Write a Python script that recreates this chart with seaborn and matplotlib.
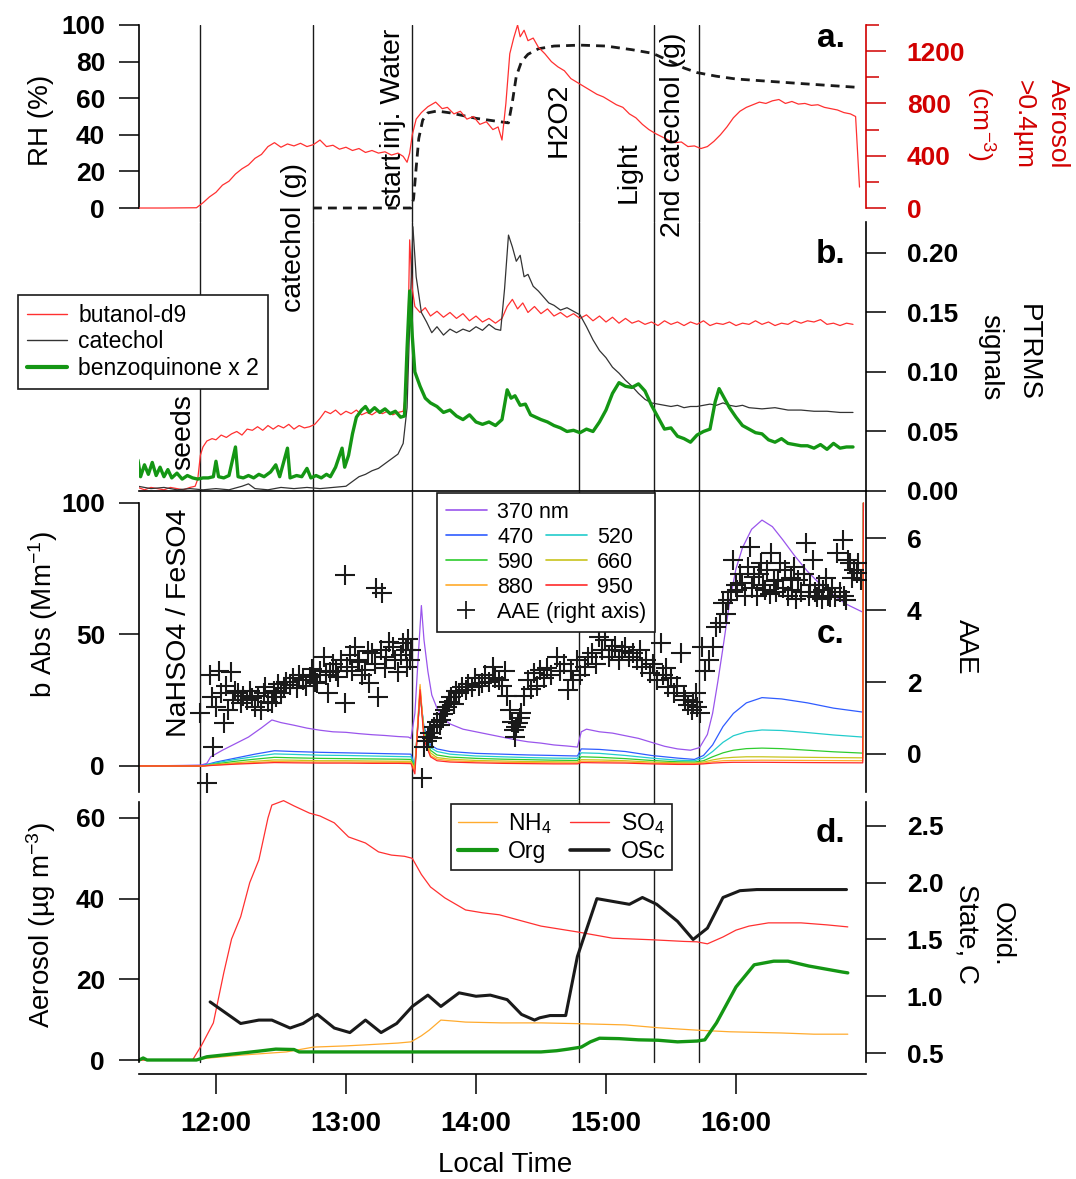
import matplotlib
matplotlib.use("Agg")
import matplotlib.pyplot as plt
import seaborn as sns
from matplotlib.lines import Line2D

# ---------------- data (time in decimal hours, local time) ----------------
events = [11.877, 12.746, 13.508, 14.795, 15.372, 15.713]

# panel a
rh = [(12.746, 0), (13.50, 0), (13.52, 5), (13.54, 22), (13.56, 38), (13.59, 48), (13.63, 52),
      (13.70, 53), (13.80, 52), (13.90, 50.5), (14.00, 49), (14.10, 48), (14.20, 47), (14.25, 46.5),
      (14.28, 58), (14.31, 72), (14.35, 80), (14.40, 84), (14.48, 87), (14.60, 88.5), (14.80, 89),
      (15.00, 88.5), (15.20, 86.5), (15.36, 84.5), (15.50, 80), (15.60, 76.5), (15.70, 74),
      (15.85, 72), (16.00, 70.5), (16.20, 69.5), (16.50, 68), (16.92, 66)]

aerosol_n = [(11.41, 0), (11.60, 0), (11.85, 2), (11.90, 40), (11.95, 85), (12.00, 120), (12.05, 175),
             (12.10, 205), (12.15, 260), (12.20, 300), (12.25, 330), (12.30, 380), (12.35, 410),
             (12.40, 470), (12.45, 500), (12.50, 465), (12.55, 490), (12.60, 475), (12.65, 495),
             (12.70, 470), (12.75, 485), (12.80, 520), (12.85, 470), (12.90, 480), (12.95, 450),
             (13.00, 465), (13.05, 440), (13.10, 455), (13.15, 425), (13.20, 440), (13.25, 420),
             (13.30, 430), (13.35, 405), (13.40, 420), (13.44, 395), (13.47, 350), (13.49, 420),
             (13.51, 560), (13.54, 680), (13.58, 730), (13.63, 775), (13.69, 810), (13.74, 760),
             (13.78, 770), (13.83, 720), (13.88, 740), (13.93, 680), (13.98, 700), (14.03, 640),
             (14.08, 660), (14.13, 600), (14.17, 620), (14.20, 520), (14.23, 800), (14.26, 1180),
             (14.29, 1300), (14.32, 1400), (14.34, 1310), (14.37, 1360), (14.40, 1280), (14.44, 1300),
             (14.48, 1230), (14.53, 1180), (14.58, 1120), (14.63, 1080), (14.68, 1050), (14.73, 990),
             (14.78, 960), (14.83, 930), (14.88, 900), (14.93, 870), (14.98, 850), (15.03, 820),
             (15.08, 790), (15.13, 770), (15.18, 720), (15.23, 690), (15.28, 640), (15.33, 600),
             (15.38, 570), (15.43, 545), (15.48, 520), (15.53, 500), (15.58, 505), (15.63, 470),
             (15.68, 475), (15.73, 455), (15.78, 470), (15.83, 510), (15.88, 560), (15.93, 620),
             (15.98, 690), (16.03, 740), (16.08, 770), (16.13, 790), (16.18, 810), (16.23, 800),
             (16.28, 820), (16.33, 830), (16.38, 800), (16.43, 815), (16.48, 795), (16.53, 800),
             (16.58, 785), (16.63, 790), (16.68, 770), (16.73, 760), (16.78, 750), (16.83, 730),
             (16.88, 720), (16.92, 700), (16.95, 160)]

# panel b
butanol = [(11.40, .003), (11.45, .001), (11.50, .003), (11.55, .002), (11.60, .001), (11.65, .003),
           (11.70, .002), (11.75, .001), (11.80, .003), (11.84, .004), (11.86, .010), (11.88, .030),
           (11.90, .037), (11.93, .042), (11.97, .044), (12.00, .043), (12.04, .047), (12.08, .045),
           (12.12, .048), (12.16, .050), (12.20, .047), (12.24, .052), (12.28, .051), (12.32, .054),
           (12.36, .051), (12.40, .055), (12.44, .052), (12.48, .055), (12.52, .053), (12.56, .056),
           (12.60, .052), (12.64, .055), (12.68, .053), (12.72, .054), (12.76, .056), (12.80, .061),
           (12.84, .067), (12.88, .065), (12.92, .068), (12.96, .064), (13.00, .067), (13.04, .065),
           (13.08, .068), (13.12, .064), (13.16, .066), (13.20, .064), (13.24, .067), (13.28, .065),
           (13.32, .067), (13.36, .064), (13.40, .066), (13.44, .067), (13.47, .090), (13.49, .211),
           (13.51, .170), (13.53, .155), (13.57, .150), (13.61, .154), (13.65, .147), (13.70, .151),
           (13.75, .146), (13.80, .150), (13.85, .145), (13.90, .149), (13.95, .143), (14.00, .147),
           (14.05, .142), (14.10, .145), (14.15, .141), (14.20, .145), (14.24, .155), (14.28, .161),
           (14.32, .153), (14.36, .158), (14.40, .150), (14.45, .155), (14.50, .149), (14.55, .153),
           (14.60, .147), (14.65, .150), (14.70, .146), (14.75, .149), (14.80, .145), (14.85, .148),
           (14.90, .143), (14.95, .147), (15.00, .142), (15.05, .146), (15.10, .141), (15.15, .145),
           (15.20, .141), (15.25, .143), (15.30, .140), (15.35, .142), (15.40, .139), (15.45, .143),
           (15.50, .140), (15.55, .142), (15.60, .139), (15.65, .142), (15.70, .140), (15.75, .143),
           (15.80, .139), (15.85, .141), (15.90, .140), (15.95, .142), (16.00, .139), (16.05, .141),
           (16.10, .140), (16.15, .143), (16.20, .140), (16.25, .142), (16.30, .139), (16.35, .141),
           (16.40, .140), (16.45, .143), (16.50, .141), (16.55, .143), (16.60, .142), (16.65, .144),
           (16.70, .140), (16.75, .141), (16.80, .139), (16.85, .141), (16.90, .140)]

catechol = [(11.40, .004), (11.50, .002), (11.60, .003), (11.70, .001), (11.80, .002), (11.90, .001),
            (12.00, .002), (12.10, .001), (12.20, .004), (12.25, .006), (12.30, .002), (12.40, .001),
            (12.50, .003), (12.60, .002), (12.70, .003), (12.80, .002), (12.90, .003), (13.00, .004),
            (13.05, .008), (13.10, .012), (13.15, .014), (13.20, .017), (13.25, .019), (13.30, .023),
            (13.35, .027), (13.40, .031), (13.44, .040), (13.47, .070), (13.49, .140), (13.515, .222),
            (13.54, .180), (13.58, .150), (13.62, .142), (13.66, .133), (13.70, .138), (13.75, .131),
            (13.80, .136), (13.85, .133), (13.90, .136), (13.95, .134), (14.00, .138), (14.05, .135),
            (14.10, .140), (14.15, .136), (14.19, .135), (14.22, .170), (14.25, .215), (14.28, .205),
            (14.31, .193), (14.34, .198), (14.37, .180), (14.40, .182), (14.44, .172), (14.48, .168),
            (14.52, .163), (14.56, .158), (14.60, .156), (14.65, .152), (14.70, .154), (14.75, .151),
            (14.80, .148), (14.85, .138), (14.90, .127), (14.95, .118), (15.00, .112), (15.05, .104),
            (15.10, .099), (15.15, .093), (15.20, .088), (15.25, .082), (15.30, .077), (15.35, .074),
            (15.40, .073), (15.45, .072), (15.50, .071), (15.55, .072), (15.60, .070), (15.65, .071),
            (15.70, .071), (15.75, .072), (15.80, .073), (15.85, .072), (15.90, .074), (15.95, .072),
            (16.00, .071), (16.05, .072), (16.10, .070), (16.20, .069), (16.30, .070), (16.40, .068),
            (16.50, .068), (16.60, .067), (16.70, .067), (16.80, .066), (16.90, .066)]

benzoquinone = [(11.40, .026), (11.42, .012), (11.45, .022), (11.48, .014), (11.51, .024), (11.54, .013),
                (11.57, .020), (11.60, .012), (11.63, .018), (11.66, .011), (11.70, .015), (11.74, .010),
                (11.78, .013), (11.82, .011), (11.86, .010), (11.90, .011), (11.94, .011), (11.98, .012),
                (12.00, .025), (12.02, .012), (12.06, .011), (12.10, .013), (12.15, .037), (12.17, .012),
                (12.21, .011), (12.25, .013), (12.29, .011), (12.33, .014), (12.37, .012), (12.42, .016),
                (12.46, .022), (12.49, .012), (12.55, .036), (12.57, .011), (12.62, .013), (12.66, .012),
                (12.70, .019), (12.73, .011), (12.77, .013), (12.81, .011), (12.85, .014), (12.88, .012),
                (12.92, .020), (12.97, .036), (12.99, .020), (13.02, .030), (13.05, .048), (13.08, .062),
                (13.12, .068), (13.15, .071), (13.18, .066), (13.22, .070), (13.26, .066), (13.30, .069),
                (13.34, .065), (13.38, .067), (13.42, .062), (13.45, .063), (13.47, .120), (13.49, .168),
                (13.51, .130), (13.53, .100), (13.57, .088), (13.61, .078), (13.65, .074), (13.70, .071),
                (13.75, .066), (13.80, .068), (13.85, .063), (13.90, .060), (13.95, .064), (14.00, .058),
                (14.05, .056), (14.10, .058), (14.15, .055), (14.20, .060), (14.24, .085), (14.27, .078),
                (14.30, .080), (14.34, .072), (14.38, .073), (14.42, .064), (14.46, .062), (14.50, .060),
                (14.55, .058), (14.60, .055), (14.65, .053), (14.70, .050), (14.75, .051), (14.80, .049),
                (14.85, .052), (14.90, .050), (14.95, .058), (15.00, .068), (15.05, .082), (15.10, .091),
                (15.15, .088), (15.20, .087), (15.25, .090), (15.30, .084), (15.35, .072), (15.40, .062),
                (15.45, .052), (15.50, .053), (15.55, .046), (15.60, .044), (15.65, .041), (15.70, .047),
                (15.75, .050), (15.80, .052), (15.84, .075), (15.87, .086), (15.91, .078), (15.95, .070),
                (16.00, .062), (16.05, .055), (16.10, .052), (16.15, .049), (16.20, .048), (16.25, .043),
                (16.30, .041), (16.35, .044), (16.40, .040), (16.45, .039), (16.50, .038), (16.55, .038),
                (16.60, .036), (16.65, .039), (16.70, .035), (16.75, .040), (16.80, .036), (16.85, .037),
                (16.90, .037)]

# panel c (absorption, Mm-1)
abs370 = [(11.41, 0), (11.88, 0.3), (11.93, 1), (11.96, 3.5), (12.05, 6), (12.15, 8.5), (12.25, 11),
          (12.35, 14.5), (12.43, 17.5), (12.50, 16.5), (12.60, 15.5), (12.70, 14.4), (12.80, 13.6),
          (12.90, 13), (13.00, 12.8), (13.10, 12.3), (13.20, 11.9), (13.30, 11.6), (13.40, 11.2),
          (13.48, 11), (13.50, 10.5), (13.53, 20), (13.56, 45), (13.58, 61), (13.60, 48), (13.63, 36),
          (13.66, 27), (13.70, 22), (13.75, 18), (13.80, 16), (13.90, 14), (14.00, 13), (14.10, 12),
          (14.20, 11), (14.30, 10), (14.40, 9.2), (14.50, 8.7), (14.60, 8), (14.70, 7.6), (14.78, 7.2),
          (14.81, 13), (14.85, 14), (14.95, 13), (15.05, 12.5), (15.15, 11.5), (15.25, 10.5), (15.35, 9),
          (15.45, 7.5), (15.55, 6.5), (15.65, 6), (15.72, 7), (15.78, 12), (15.82, 20), (15.86, 32),
          (15.90, 45), (15.95, 62), (16.00, 75), (16.05, 83), (16.12, 90), (16.20, 93.5), (16.28, 91),
          (16.36, 86), (16.45, 80), (16.55, 74), (16.65, 69), (16.75, 65), (16.85, 61.5), (16.975, 58.5),
          (16.98, 100)]
abs470 = [(11.41, 0), (11.90, 0.2), (12.00, 1.5), (12.15, 3), (12.30, 4.5), (12.45, 5.8), (12.60, 5.5),
          (12.80, 5.2), (13.00, 5), (13.20, 4.8), (13.40, 4.6), (13.50, 4.5), (13.53, 0), (13.57, 27),
          (13.60, 15), (13.65, 8), (13.70, 6.5), (13.80, 5.5), (14.00, 4.8), (14.20, 4.5), (14.40, 4.2),
          (14.60, 4), (14.78, 3.8), (14.81, 6.5), (14.95, 6.3), (15.15, 5.5), (15.35, 4), (15.55, 3),
          (15.68, 2.5), (15.75, 4), (15.82, 8), (15.90, 15), (15.98, 20), (16.08, 24), (16.20, 26),
          (16.35, 25.5), (16.55, 24), (16.75, 22), (16.975, 20.5), (16.98, 100)]
abs520 = [(11.41, 0), (11.90, 0.1), (12.00, 1.2), (12.15, 2.5), (12.30, 3.6), (12.45, 4.6), (12.60, 4.4),
          (12.80, 4.1), (13.00, 4), (13.20, 3.8), (13.40, 3.6), (13.50, 3.5), (13.53, 0), (13.57, 28),
          (13.60, 14), (13.65, 7), (13.70, 5.5), (13.80, 4.5), (14.00, 3.8), (14.20, 3.5), (14.40, 3.2),
          (14.60, 3), (14.78, 2.9), (14.81, 5), (14.95, 4.8), (15.15, 4), (15.35, 3), (15.55, 2.2),
          (15.68, 2), (15.75, 3), (15.82, 5.5), (15.90, 9), (15.98, 11.5), (16.08, 13), (16.20, 13.7),
          (16.35, 13.5), (16.55, 12.7), (16.75, 11.8), (16.975, 11), (16.98, 100)]
abs590 = [(11.41, 0), (11.90, 0), (12.00, 0.8), (12.15, 1.8), (12.30, 2.6), (12.45, 3.3), (12.60, 3.1),
          (12.80, 2.9), (13.00, 2.8), (13.20, 2.7), (13.40, 2.6), (13.50, 2.5), (13.53, -0.5), (13.57, 28),
          (13.60, 13), (13.65, 6), (13.70, 4.2), (13.80, 3.4), (14.00, 2.9), (14.20, 2.6), (14.40, 2.4),
          (14.60, 2.2), (14.78, 2.1), (14.81, 3.5), (14.95, 3.3), (15.15, 2.8), (15.35, 2.1), (15.55, 1.6),
          (15.68, 1.5), (15.75, 2), (15.82, 3.5), (15.90, 5), (15.98, 6), (16.08, 6.6), (16.20, 6.8),
          (16.35, 6.6), (16.55, 6), (16.75, 5.4), (16.975, 4.9), (16.98, 100)]
abs660 = [(11.41, 0), (11.90, 0), (12.00, 0.6), (12.15, 1.2), (12.30, 1.8), (12.45, 2.3), (12.60, 2.2),
          (12.80, 2), (13.00, 2), (13.20, 1.9), (13.40, 1.8), (13.50, 1.8), (13.53, -1), (13.57, 30),
          (13.60, 12), (13.65, 5), (13.70, 3.2), (13.80, 2.6), (14.00, 2.1), (14.20, 1.9), (14.40, 1.7),
          (14.60, 1.6), (14.78, 1.5), (14.81, 2.4), (14.95, 2.3), (15.15, 2), (15.35, 1.5), (15.55, 1.2),
          (15.68, 1.1), (15.75, 1.5), (15.82, 2.3), (15.90, 3), (15.98, 3.3), (16.08, 3.5), (16.20, 3.5),
          (16.35, 3.4), (16.55, 3.3), (16.75, 3.2), (16.975, 3.1), (16.98, 100)]
abs880 = [(11.41, 0), (11.90, 0), (12.00, 0.4), (12.15, 0.9), (12.30, 1.3), (12.45, 1.7), (12.60, 1.6),
          (12.80, 1.5), (13.00, 1.5), (13.20, 1.4), (13.40, 1.4), (13.50, 1.3), (13.53, -1.5), (13.57, 31),
          (13.60, 11), (13.65, 4), (13.70, 2.6), (13.80, 2), (14.00, 1.6), (14.20, 1.4), (14.40, 1.3),
          (14.60, 1.2), (14.78, 1.1), (14.81, 1.8), (14.95, 1.7), (15.15, 1.5), (15.35, 1.1), (15.55, 0.9),
          (15.68, 0.9), (15.75, 1.1), (15.82, 1.6), (15.90, 2), (15.98, 2.1), (16.20, 2.2), (16.55, 2.1),
          (16.975, 2), (16.98, 100)]
abs950 = [(11.41, 0), (11.90, 0), (12.00, 0.3), (12.15, 0.7), (12.30, 1), (12.45, 1.3), (12.60, 1.2),
          (12.80, 1.1), (13.00, 1.1), (13.20, 1), (13.40, 1), (13.50, 0.9), (13.53, -3), (13.57, 29),
          (13.60, 10), (13.65, 3.5), (13.70, 2), (13.80, 1.5), (14.00, 1.2), (14.20, 1), (14.40, 0.9),
          (14.60, 0.8), (14.78, 0.8), (14.81, 1.3), (14.95, 1.2), (15.15, 1.1), (15.35, 0.8), (15.55, 0.6),
          (15.68, 0.6), (15.75, 0.8), (15.82, 1.1), (15.90, 1.3), (15.98, 1.4), (16.20, 1.4), (16.55, 1.3),
          (16.975, 1.2), (16.98, 100)]

aae = [(11.88, 1.14), (11.93, -0.8), (11.955, 2.2), (11.97, 1.58), (11.975, 0.2), (12.0, 1.3), (12.02, 2.3),
       (12.04, 1.69), (12.06, 0.86), (12.08, 1.9), (12.09, 1.22), (12.115, 2.28), (12.13, 1.5), (12.15, 1.75),
       (12.17, 1.69), (12.19, 1.41), (12.21, 1.6), (12.24, 1.5), (12.26, 1.75), (12.28, 1.55), (12.30, 1.3),
       (12.32, 1.6), (12.35, 1.22), (12.37, 1.7), (12.38, 1.86), (12.40, 1.45), (12.43, 1.41), (12.45, 1.75),
       (12.46, 1.58), (12.48, 1.95), (12.50, 1.7), (12.52, 1.83), (12.54, 2.0), (12.57, 1.92), (12.59, 2.1),
       (12.62, 1.83), (12.64, 2.2), (12.67, 2.05), (12.69, 1.9), (12.72, 2.14), (12.74, 2.35), (12.76, 2.0),
       (12.78, 1.97), (12.80, 2.3), (12.83, 2.7), (12.85, 2.2), (12.86, 1.69), (12.88, 2.28), (12.90, 2.5),
       (12.92, 2.3), (12.94, 2.14), (12.96, 2.6), (12.99, 1.41), (12.99, 4.97), (13.01, 2.42), (13.03, 2.75),
       (13.05, 2.3), (13.07, 2.97), (13.09, 2.6), (13.10, 2.56), (13.12, 2.2), (13.15, 2.33), (13.17, 2.85),
       (13.18, 1.97), (13.20, 2.8), (13.22, 2.5), (13.23, 4.6), (13.25, 1.58), (13.27, 2.9), (13.28, 4.47),
       (13.30, 2.4), (13.31, 2.7), (13.33, 3.1), (13.36, 2.97), (13.38, 2.6), (13.40, 2.28), (13.42, 2.75),
       (13.44, 3.08), (13.46, 2.9), (13.47, 2.42), (13.48, 3.19), (13.49, 2.61), (13.50, 2.9),
       (13.585, -0.67), (13.60, 0.2), (13.62, 0.35), (13.63, 0.47), (13.65, 0.58), (13.66, 0.45), (13.68, 0.75),
       (13.70, 0.9), (13.72, 0.8), (13.73, 0.94), (13.75, 1.1), (13.76, 1.22), (13.78, 1.3), (13.79, 1.45),
       (13.81, 1.58), (13.83, 1.4), (13.85, 1.75), (13.87, 1.69), (13.89, 1.85), (13.92, 1.78), (13.94, 1.95),
       (13.97, 1.86), (13.99, 2.1), (14.02, 1.9), (14.05, 1.97), (14.07, 2.2), (14.10, 2.0), (14.13, 2.42),
       (14.15, 2.1), (14.18, 2.05), (14.20, 1.9), (14.22, 2.3), (14.24, 1.6), (14.26, 1.22), (14.28, 0.9),
       (14.29, 0.67), (14.30, 0.47), (14.31, 0.75), (14.32, 0.86), (14.34, 1.0), (14.35, 1.14), (14.37, 1.6),
       (14.40, 2.05), (14.42, 1.8), (14.45, 2.25), (14.47, 1.9), (14.49, 2.33), (14.52, 2.1), (14.55, 2.4),
       (14.58, 2.2), (14.62, 2.7), (14.65, 2.3), (14.68, 2.5), (14.71, 1.78), (14.73, 2.3), (14.75, 2.05),
       (14.78, 2.6), (14.80, 2.2), (14.84, 2.42), (14.86, 2.7), (14.89, 2.8), (14.92, 2.5), (14.95, 3.25),
       (14.97, 2.9), (14.99, 3.17), (15.02, 2.7), (15.05, 2.89), (15.07, 3.0), (15.10, 2.61), (15.12, 2.85),
       (15.15, 2.97), (15.18, 2.7), (15.21, 2.8), (15.24, 2.6), (15.26, 2.89), (15.28, 2.42), (15.31, 2.6),
       (15.34, 2.25), (15.36, 2.5), (15.39, 2.05), (15.42, 3.08), (15.44, 2.2), (15.46, 2.4), (15.48, 1.86),
       (15.50, 2.1), (15.52, 1.69), (15.55, 1.9), (15.58, 2.8), (15.60, 1.6), (15.61, 1.5), (15.63, 1.35),
       (15.66, 1.22), (15.67, 1.45), (15.69, 1.69), (15.70, 1.3), (15.72, 1.14), (15.74, 2.97), (15.76, 2.3),
       (15.79, 2.61), (15.82, 2.97), (15.85, 3.53), (15.88, 3.64), (15.90, 4.19), (15.92, 3.9), (15.94, 4.28),
       (15.96, 4.5), (15.98, 5.39), (16.00, 4.7), (16.01, 4.56), (16.03, 5.0), (16.05, 4.75), (16.07, 4.4),
       (16.09, 5.2), (16.11, 5.75), (16.12, 4.6), (16.14, 4.92), (16.16, 4.4), (16.18, 5.0), (16.19, 5.31),
       (16.21, 4.7), (16.22, 4.56), (16.24, 5.1), (16.26, 4.45), (16.27, 5.58), (16.29, 4.8), (16.31, 4.5),
       (16.32, 4.83), (16.34, 5.3), (16.36, 4.6), (16.38, 5.11), (16.40, 4.4), (16.42, 4.9), (16.43, 4.56),
       (16.45, 5.2), (16.46, 4.3), (16.48, 4.83), (16.50, 4.5), (16.52, 5.0), (16.54, 5.86), (16.56, 4.4),
       (16.57, 4.7), (16.59, 5.39), (16.61, 4.5), (16.62, 4.36), (16.64, 4.7), (16.66, 4.3), (16.67, 4.56),
       (16.69, 4.9), (16.71, 4.4), (16.72, 4.36), (16.74, 4.6), (16.76, 4.35), (16.78, 5.58), (16.80, 4.5),
       (16.82, 5.94), (16.83, 4.4), (16.85, 4.28), (16.86, 5.4), (16.88, 5.31), (16.89, 4.9), (16.91, 5.1),
       (16.93, 5.03), (16.94, 5.3), (16.96, 4.83)]

# panel d (aerosol composition, ug m-3 ; OSc on right axis)
so4 = [(11.41, 0), (11.82, 0), (11.89, 3.7), (11.98, 9.2), (12.06, 21.6), (12.12, 30), (12.19, 35.5),
       (12.26, 44), (12.33, 49.6), (12.40, 60), (12.43, 63.2), (12.52, 64.3), (12.60, 63), (12.72, 61.2),
       (12.80, 60.5), (12.91, 58.8), (13.02, 55.3), (13.15, 53.8), (13.25, 51.6), (13.35, 50.8),
       (13.45, 50.5), (13.51, 50), (13.58, 46), (13.65, 42.9), (13.76, 40.2), (13.92, 37.2), (14.05, 36.5),
       (14.18, 36), (14.35, 34.5), (14.50, 33.2), (14.79, 31.7), (15.05, 30.2), (15.36, 29.8), (15.60, 29.4),
       (15.70, 29.3), (15.78, 28.8), (15.90, 30.5), (16.00, 32.2), (16.10, 33.2), (16.25, 34), (16.50, 34),
       (16.70, 33.5), (16.86, 33)]
nh4 = [(11.41, 0), (11.82, 0), (11.95, 0.5), (12.19, 1.2), (12.54, 2), (12.75, 3.2), (13.0, 3.5), (13.12, 3.7),
       (13.40, 4.2), (13.50, 4.5), (13.58, 6), (13.64, 7.4), (13.73, 9.9), (13.85, 9.6), (13.92, 9.4),
       (14.20, 9.2), (14.50, 9.2), (14.80, 9), (15.15, 8.7), (15.40, 8), (15.70, 7.4), (15.95, 7), (16.35, 6.7),
       (16.60, 6.4), (16.86, 6.4)]
org = [(11.41, 0), (11.44, 0.5), (11.47, 0), (11.85, 0), (11.93, 0.8), (12.19, 1.7), (12.33, 2.2), (12.46, 2.7),
       (12.60, 2.6), (12.64, 2.0), (13.0, 2.0), (13.5, 2.0), (14.0, 2.0), (14.5, 2.0), (14.62, 2.3), (14.71, 2.7),
       (14.81, 3.2), (14.88, 4.5), (14.95, 5.4), (15.10, 5.3), (15.25, 5.0), (15.40, 4.9), (15.55, 4.5),
       (15.70, 4.7), (15.76, 5.0), (15.85, 9.2), (16.00, 18.1), (16.14, 23.6), (16.29, 24.5), (16.40, 24.5),
       (16.56, 23.3), (16.82, 21.8), (16.86, 21.6)]
osc = [(11.955, 0.95), (12.19, 0.76), (12.33, 0.79), (12.43, 0.79), (12.57, 0.72), (12.67, 0.76), (12.78, 0.84),
       (12.91, 0.72), (13.03, 0.68), (13.15, 0.79), (13.27, 0.68), (13.39, 0.76), (13.51, 0.91), (13.63, 1.01),
       (13.73, 0.91), (13.87, 1.03), (14.00, 1.0), (14.11, 1.01), (14.24, 0.97), (14.35, 0.84), (14.45, 0.79),
       (14.49, 0.81), (14.57, 0.83), (14.69, 0.83), (14.78, 1.35), (14.93, 1.86), (15.18, 1.81), (15.28, 1.87),
       (15.39, 1.81), (15.55, 1.66), (15.67, 1.5), (15.78, 1.6), (15.90, 1.87), (16.03, 1.93), (16.16, 1.94),
       (16.85, 1.94)]

hour_ticks = [12, 13, 14, 15, 16]
hour_labels = ["12:00", "13:00", "14:00", "15:00", "16:00"]

# ---------------- style ----------------
sns.set_theme(style="ticks")
plt.rcParams["font.family"] = ["Liberation Sans", "DejaVu Sans"]
plt.rcParams["mathtext.fontset"] = "custom"
plt.rcParams["mathtext.rm"] = "Liberation Sans"
plt.rcParams["mathtext.it"] = "Liberation Sans:italic"
plt.rcParams["mathtext.bf"] = "Liberation Sans:bold"
plt.rcParams["mathtext.default"] = "regular"
plt.rcParams["axes.linewidth"] = 1.2
for key in ("text.color", "axes.labelcolor", "xtick.color", "ytick.color", "axes.edgecolor"):
    plt.rcParams[key] = "black"

RED = "#ff3030"
RED_AX = "#d10000"
GREEN = "#149614"
C370, C470, C520, C590 = "#9a55ec", "#2f5cff", "#22cccc", "#2ecc2e"
C660, C880, C950 = "#c8c41c", "#ffaa2a", "#ff2a2a"

W, H = 1076, 1179
fig = plt.figure(figsize=(W / 100, H / 100), dpi=100)


def box(top, bottom):
    return [139 / W, 1 - bottom / H, 727 / W, (bottom - top) / H]


def ftext(x, y, s, **kw):
    fig.text(x / W, 1 - y / H, s, **kw)


def line(ax, pairs, **kw):
    t, v = zip(*pairs)
    sns.lineplot(x=list(t), y=list(v), ax=ax, estimator=None, sort=False, legend=False, **kw)


ax_a = fig.add_axes(box(25, 222))
ax_b = fig.add_axes(box(222, 491), sharex=ax_a)
ax_c = fig.add_axes(box(491, 800), sharex=ax_a)
ax_d = fig.add_axes(box(800, 1074), sharex=ax_a)
ax_a2 = ax_a.twinx()
ax_c2 = ax_c.twinx()
ax_d2 = ax_d.twinx()

# ---- panel a ----
line(ax_a2, aerosol_n, color=RED, linewidth=0.9)
line(ax_a, rh, color="k", linewidth=2.0, linestyle=(0, (3.2, 2.2)))
# ---- panel b ----
line(ax_b, butanol, color=RED, linewidth=0.9)
line(ax_b, catechol, color="#333333", linewidth=0.9)
line(ax_b, benzoquinone, color=GREEN, linewidth=2.4)
# ---- panel c ----
for series, col in [(abs370, C370), (abs470, C470), (abs520, C520), (abs590, C590),
                    (abs660, C660), (abs880, C880), (abs950, C950)]:
    line(ax_c, series, color=col, linewidth=0.9)
at, av = zip(*aae)
sns.scatterplot(x=list(at), y=list(av), ax=ax_c2, marker="+", s=200, color="k", linewidth=1.5, legend=False)
# ---- panel d ----
line(ax_d, nh4, color="#ffab2e", linewidth=0.9)
line(ax_d, so4, color=RED, linewidth=0.9)
line(ax_d, org, color=GREEN, linewidth=2.4)
line(ax_d2, osc, color="k", linewidth=2.2)

# event lines
for ev in events:
    for ax in (ax_a, ax_b, ax_c):
        ax.axvline(ev, color="k", linewidth=1.0, zorder=1)
    ax_d.axvline(ev, ymin=12 / 274, ymax=1, color="k", linewidth=1.0, zorder=1)

# ---- axes limits / spines / ticks ----
ax_a.set_xlim(11.408, 17.0)
ax_a.set_ylim(-7.65, 100)
ax_a2.set_ylim(-107, 1400)
ax_b.set_ylim(0, 0.226)
ax_c.set_ylim(-12.93, 104.56)
ax_c2.set_ylim(-1.28, 7.31)
ax_d.set_ylim(-3.47, 64.46)
ax_d2.set_ylim(0.315, 2.729)

for ax in (ax_a, ax_b, ax_c, ax_d, ax_a2, ax_c2, ax_d2):
    ax.set_xlabel("")
    ax.set_ylabel("")
    ax.spines["top"].set_visible(False)
    ax.tick_params(axis="x", which="both", bottom=False, labelbottom=False, top=False)
    ax.patch.set_alpha(0)

for ax in (ax_a, ax_c, ax_d):
    ax.spines["right"].set_visible(False)
for ax in (ax_a2, ax_c2, ax_d2):
    ax.spines["left"].set_visible(False)
    ax.spines["bottom"].set_visible(False)
for ax in (ax_a, ax_c):
    ax.spines["bottom"].set_visible(False)
ax_b.spines["left"].set_visible(False)
ax_b.spines["right"].set_visible(True)
ax_b.yaxis.tick_right()

ax_a.spines["left"].set_bounds(0, 100)
ax_a2.spines["right"].set_bounds(0, 1400)
ax_a2.spines["right"].set_color(RED_AX)
ax_c.spines["left"].set_bounds(-10, 100)
ax_c2.spines["right"].set_bounds(-1.05, 7.31)
ax_d.spines["left"].set_bounds(-0.5, 64)
ax_d2.spines["right"].set_bounds(0.42, 2.71)

TL = 14.4
bold = dict(fontweight="bold")
ax_a.set_yticks([0, 20, 40, 60, 80, 100], labels=["0", "20", "40", "60", "80", "100"], **bold)
ax_a2.set_yticks([0, 400, 800, 1200], labels=["0", "400", "800", "1200"], **bold)
ax_a2.set_yticks([200, 600, 1000, 1400], minor=True)
ax_b.set_yticks([0, 0.05, 0.10, 0.15, 0.20], labels=["0.00", "0.05", "0.10", "0.15", "0.20"], **bold)
ax_c.set_yticks([0, 50, 100], labels=["0", "50", "100"], **bold)
ax_c2.set_yticks([0, 2, 4, 6], labels=["0", "2", "4", "6"], **bold)
ax_d.set_yticks([0, 20, 40, 60], labels=["0", "20", "40", "60"], **bold)
ax_d2.set_yticks([0.5, 1.0, 1.5, 2.0, 2.5], labels=["0.5", "1.0", "1.5", "2.0", "2.5"], **bold)

for ax in (ax_a, ax_c, ax_d):
    ax.tick_params(axis="y", which="major", length=TL, width=1.1, labelsize=19, pad=10, left=True, right=False)
for ax in (ax_b, ax_a2, ax_c2, ax_d2):
    ax.tick_params(axis="y", which="major", length=TL, width=1.1, labelsize=19, pad=15, right=True, left=False)
ax_a2.tick_params(axis="y", which="minor", length=9, width=1.1, right=True, left=False)
ax_a2.tick_params(axis="y", which="both", colors=RED_AX)

ax_d.tick_params(axis="x", which="major", bottom=True, labelbottom=True, length=TL, width=1.1,
                 labelsize=20, pad=12)
ax_d.set_xticks(hour_ticks, labels=hour_labels, **bold)
ax_d.tick_params(axis="x", which="minor", bottom=False)

# ---- legends ----
leg_kw = dict(frameon=True, fancybox=False, edgecolor="k", framealpha=1, borderaxespad=0,
              bbox_transform=fig.transFigure, loc="upper left")

hb = [Line2D([], [], color=RED, lw=1.0), Line2D([], [], color="#333333", lw=1.0),
      Line2D([], [], color=GREEN, lw=3.0)]
lb = ax_b.legend(hb, ["butanol-d9", "catechol", "benzoquinone x 2"], bbox_to_anchor=(18 / W, 1 - 295 / H),
                 fontsize=16.5, borderpad=0.38, labelspacing=0.16, handlelength=1.75, handletextpad=0.5, **leg_kw)
lb.get_frame().set_linewidth(1.2)
lb.set_zorder(10)

hc1 = [Line2D([], [], color=C370, lw=1.2), Line2D([], [], color=C470, lw=1.2),
       Line2D([], [], color=C590, lw=1.2), Line2D([], [], color=C880, lw=1.2),
       Line2D([], [], color="k", ls="none", marker="+", ms=13, mew=1.3)]
lc1 = ax_c2.legend(hc1, ["370 nm", "470", "590", "880", "AAE (right axis)"],
                   bbox_to_anchor=(437 / W, 1 - 493 / H), fontsize=15.5, borderpad=0.4,
                   labelspacing=0.19, handlelength=1.9, handletextpad=0.5, **leg_kw)
lc1.get_frame().set_linewidth(1.2)
ax_c2.add_artist(lc1)
hc2 = [Line2D([], [], ls="none"), Line2D([], [], color=C520, lw=1.2),
       Line2D([], [], color=C660, lw=1.2), Line2D([], [], color=C950, lw=1.2)]
lc2 = ax_c2.legend(hc2, [" ", "520", "660", "950"], bbox_to_anchor=(537 / W, 1 - 493 / H),
                   fontsize=15.5, borderpad=0.4, labelspacing=0.19, handlelength=1.9,
                   handletextpad=0.5, frameon=False, borderaxespad=0,
                   bbox_transform=fig.transFigure, loc="upper left")

hd = [Line2D([], [], color="#ffab2e", lw=1.0), Line2D([], [], color=GREEN, lw=3.0),
      Line2D([], [], color=RED, lw=1.0), Line2D([], [], color="k", lw=2.6)]
ld = ax_d2.legend(hd, ["NH$_4$", "Org", "SO$_4$", "OSc"], ncol=2, bbox_to_anchor=(451 / W, 1 - 804 / H),
                  fontsize=16.5, borderpad=0.3, labelspacing=0.2, handlelength=1.7, handletextpad=0.5,
                  columnspacing=0.8, **leg_kw)
ld.get_frame().set_linewidth(1.2)

# ---- text labels ----
ev_kw = dict(rotation=90, ha="right", va="bottom", fontsize=20.5)
ftext(200 - 4, 470, "seeds", **ev_kw)
ftext(200 - 8, 737, "NaHSO4 / FeSO4", **ev_kw)
ftext(313.8 - 7, 312, "catechol (g)", **ev_kw)
ftext(412.8 - 7, 207, "start", **ev_kw)
ftext(412.8 - 7, 148, "inj. Water", **ev_kw)
ftext(578.6 - 7, 157, "H2O2", **ev_kw)
ftext(653 - 11, 203, "Light", **ev_kw)
ftext(697 - 11, 237, "2nd catechol (g)", **ev_kw)

let_kw = dict(ha="right", va="baseline", fontsize=24, fontweight="bold")
ftext(845, 47, "a.", **let_kw)
ftext(845, 263, "b.", **let_kw)
ftext(845, 643, "c.", **let_kw)
ftext(845, 842, "d.", **let_kw)

lab_kw = dict(ha="center", va="center", fontsize=20)
ftext(41, 120, "RH (%)", rotation=90, **lab_kw)
ftext(43, 615, "b Abs (Mm$^{-1}$)", rotation=90, **lab_kw)
ftext(41, 925, "Aerosol (µg m$^{-3}$)", rotation=90, **lab_kw)
ftext(1058, 124, "Aerosol", rotation=270, color=RED_AX, ha="center", va="center", fontsize=19)
ftext(1024, 124, ">0.4µm", rotation=270, color=RED_AX, ha="center", va="center", fontsize=19)
ftext(980, 124, "(cm$^{-3}$)", rotation=270, color=RED_AX, ha="center", va="center", fontsize=19)
ftext(1028, 352, "PTRMS", rotation=270, **lab_kw)
ftext(990, 357, "signals", rotation=270, **lab_kw)
ftext(966, 647, "AAE", rotation=270, **lab_kw)
ftext(1002, 934, "Oxid.", rotation=270, **lab_kw)
ftext(966, 934, "State, C", rotation=270, **lab_kw)
ftext(505, 1165, "Local Time", **lab_kw)

fig.savefig("out.png", dpi=100)
